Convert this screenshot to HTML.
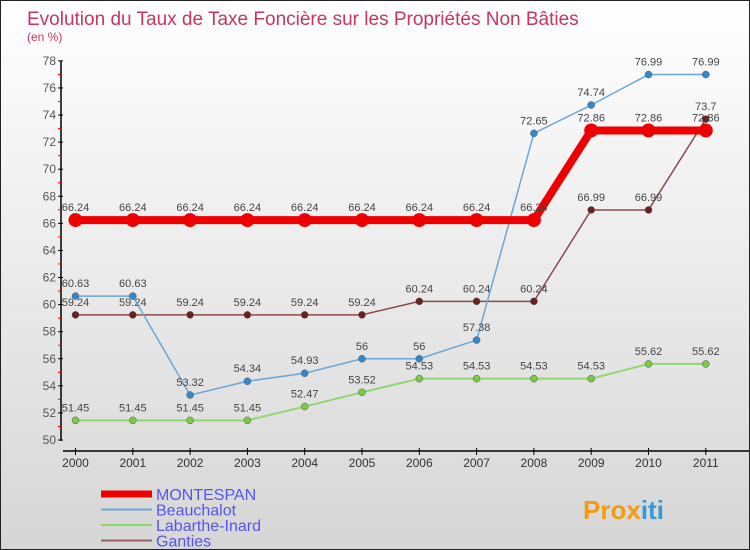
<!DOCTYPE html>
<html><head><meta charset="utf-8"><style>
body{margin:0}
#c{width:748px;height:548px;border:1px solid #222;background:linear-gradient(#fff,#d6d6d6);position:relative;font-family:"Liberation Sans",sans-serif;overflow:hidden}
</style></head><body>
<div id="c">
<svg id="s" width="748" height="548"></svg>
</div>
<script>
const years=["2000","2001","2002","2003","2004","2005","2006","2007","2008","2009","2010","2011"];
const montespan=[66.24,66.24,66.24,66.24,66.24,66.24,66.24,66.24,66.24,72.86,72.86,72.86];
const beauchalot=[60.63,60.63,53.32,54.34,54.93,56,56,57.38,72.65,74.74,76.99,76.99];
const labarthe=[51.45,51.45,51.45,51.45,52.47,53.52,54.53,54.53,54.53,54.53,55.62,55.62];
const ganties=[59.24,59.24,59.24,59.24,59.24,59.24,60.24,60.24,60.24,66.99,66.99,73.7];
const yTicks=[50,52,54,56,58,60,62,64,66,68,70,72,74,76,78];
const NS="http://www.w3.org/2000/svg";
const s=document.getElementById('s');
function X(i){return 74.5+i*57.3;}
function Y(v){return 439-(v-50)*13.54;}
function el(t,a,p){const e=document.createElementNS(NS,t);for(const k in a)e.setAttribute(k,a[k]);(p||s).appendChild(e);return e;}
function tx(x,y,str,a){const e=el('text',Object.assign({x:x,y:y},a));e.textContent=str;return e;}
let t=tx(26,24,"Evolution du Taux de Taxe Foncière sur les Propriétés Non Bâties",{fill:"#c8365f","font-size":19});

t=tx(26,40,"(en %)",{fill:"#c8365f","font-size":12});

let ax=el('line',{x1:60,y1:60,x2:60,y2:440,stroke:"#000","stroke-width":1.5});

yTicks.forEach(v=>{el('line',{x1:57,x2:62,y1:Y(v),y2:Y(v),stroke:"#000"});
 if(v<78)el('line',{x1:57,x2:60,y1:Y(v+1),y2:Y(v+1),stroke:"red"});
 const l=tx(55,Y(v)+4,String(v),{fill:"#555","font-size":12,"text-anchor":"end"});
 });
ax=el('line',{x1:62,y1:450,x2:748,y2:450,stroke:"#000","stroke-width":1.5});

years.forEach((y,i)=>{el('line',{x1:X(i),x2:X(i),y1:447,y2:454,stroke:"#000"});
 const l=tx(X(i),466,y,{fill:"#333","font-size":12,"text-anchor":"middle"});
 });
function series(vals,col,w,r,dot,name,lab){
 const g=el('g',{});
 el('polyline',{points:vals.map((v,i)=>X(i)+","+Y(v)).join(" "),fill:"none",stroke:col,"stroke-width":w,"stroke-linejoin":"round"},g);
 vals.forEach((v,i)=>{const c=el('circle',{cx:X(i),cy:Y(v),r:r,fill:dot,stroke:w>3?"none":"#555","stroke-width":0.5},g);
  
  tx(X(i),Y(v)-9,String(v),{fill:"#444","font-size":11,"text-anchor":"middle"},g);});
}
series(ganties,"#8b4a4a",1.5,3.5,"#6b1f1f","ganties");
series(labarthe,"#8fd870",2,3.5,"#77cc44","labarthe-inard");
series(beauchalot,"#6aa6d6",1.5,3.5,"#3388cc","beauchalot");
series(montespan,"#ee0000",8,7,"#ee0000","montespan");
const leg=[["MONTESPAN","#ee0000",7],["Beauchalot","#6aa6d6",2],["Labarthe-Inard","#8fd870",2],["Ganties","#9a6060",2]];
leg.forEach((l,i)=>{const g=el('g',{});
 const y=493+i*15.5;el('line',{x1:100,x2:151,y1:y,y2:y,stroke:l[1],"stroke-width":l[2]},g);
 tx(155,y+6,l[0],{fill:"#5555ee","font-size":16},g);});
t=tx(582,518,"Prox",{fill:"#f39c12","font-size":26,"font-weight":"bold"});

const sp=el('tspan',{fill:"#3399dd"},t);sp.textContent="iti";
</script>
</body></html>
